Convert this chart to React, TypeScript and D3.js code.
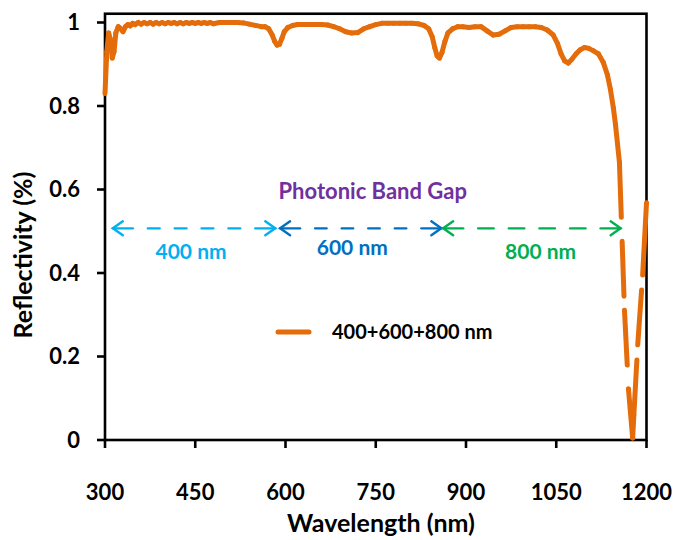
import React, { useEffect, useRef } from 'react'
import * as d3 from 'd3'

// reflectivity spectrum
const wavelength = [
  300, 303, 306, 309, 312, 315, 318, 322, 326, 330, 334, 338, 342, 346, 350, 355, 360, 365, 370, 375,
  380, 385, 390, 395, 400, 405, 410, 415, 420, 425, 430, 435, 440, 445, 450, 455, 460, 465, 470, 475,
  480, 490, 500, 510, 520, 530, 540, 550, 560, 566, 572, 578, 582, 586, 590, 594, 598, 604, 612, 620,
  630, 640, 650, 660, 670, 680, 690, 700, 710, 720, 730, 740, 750, 760, 770, 780, 790, 800, 810, 820,
  830, 838, 844, 848, 852, 856, 860, 865, 870, 878, 886, 895, 905, 915, 925, 935, 945, 955, 965, 975,
  985, 995, 1005, 1015, 1025, 1035, 1045, 1052, 1058, 1064, 1070, 1076, 1083, 1090, 1097, 1104, 1112, 1120, 1128, 1135,
  1140, 1145, 1148.5, 1155, 1163.4, 1170, 1177, 1179, 1185.4, 1193.6, 1196.7, 1200,
]
const reflectivity = [
  0.83, 0.93, 0.975, 0.96, 0.915, 0.93, 0.975, 0.99, 0.985, 0.978, 0.99, 0.995, 0.992, 0.998, 0.995, 1.0, 0.996, 1.0, 0.997, 1.0,
  0.996, 1.0, 0.997, 1.0, 0.997, 1.0, 0.998, 1.0, 0.997, 1.0, 0.997, 1.0, 0.998, 1.0, 0.998, 1.0, 0.998, 1.0, 0.998, 1.0,
  0.997, 1.0, 1.0, 1.0, 1.0, 0.999, 0.996, 0.993, 0.99, 0.99, 0.985, 0.97, 0.955, 0.946, 0.948, 0.962, 0.978, 0.988, 0.993, 0.995,
  0.995, 0.995, 0.995, 0.995, 0.994, 0.99, 0.985, 0.978, 0.975, 0.976, 0.985, 0.99, 0.995, 0.998, 0.998, 0.998, 0.998, 0.998, 0.998, 0.997,
  0.993, 0.985, 0.965, 0.94, 0.92, 0.915, 0.928, 0.955, 0.975, 0.985, 0.99, 0.99, 0.988, 0.99, 0.99, 0.98, 0.97, 0.972, 0.98, 0.988,
  0.99, 0.99, 0.99, 0.99, 0.988, 0.982, 0.97, 0.95, 0.925, 0.908, 0.903, 0.912, 0.925, 0.935, 0.94, 0.938, 0.932, 0.925, 0.905, 0.875,
  0.84, 0.795, 0.755, 0.665, 0.311, 0.122, 0.005, 0.06, 0.228, 0.395, 0.479, 0.568,
]

const xTicks = [300, 450, 600, 750, 900, 1050, 1200]
const yTicks = [0, 0.2, 0.4, 0.6, 0.8, 1]

// photonic band gap annotations
const bandStart = [313, 591, 862]
const bandEnd = [583, 859, 1157]
const bandLabel = ['400 nm', '600 nm', '800 nm']
const bandLabelAt = [443, 711, 1024]
const bandColor = ['#00B0F0', '#0070C0', '#00B050']

const seriesName = '400+600+800 nm'

const App = () => {
  const svgRef = useRef<SVGSVGElement>(null)

  useEffect(() => {
    const svg = d3.select(svgRef.current)
    svg.selectAll('*').remove()

    const font = 'Lato, Carlito, Calibri, sans-serif'
    const x = d3.scaleLinear([300, 1200], [105, 646.5])
    const y = d3.scaleLinear([0, 1], [440, 22.5])

    const orange = '#E46C0A'

    // plot frame
    svg.append('rect')
      .attr('x', x(300)).attr('y', y(1.021))
      .attr('width', x(1200) - x(300)).attr('height', y(0) - y(1.021))
      .attr('fill', 'none').attr('stroke', '#000').attr('stroke-width', 2.6)

    // ticks
    svg.append('g').selectAll('line').data(yTicks).join('line')
      .attr('x1', x(300) - 8).attr('x2', x(300))
      .attr('y1', d => y(d)).attr('y2', d => y(d))
      .attr('stroke', '#000').attr('stroke-width', 2.6)
    svg.append('g').selectAll('line').data(xTicks).join('line')
      .attr('x1', d => x(d)).attr('x2', d => x(d))
      .attr('y1', y(0)).attr('y2', y(0) + 8)
      .attr('stroke', '#000').attr('stroke-width', 2.6)

    svg.append('g').selectAll('text').data(yTicks).join('text')
      .attr('x', 80).attr('y', d => y(d))
      .attr('dy', '0.35em').attr('text-anchor', 'end')
      .attr('font-family', font).attr('font-weight', 700).attr('font-size', 22)
      .text(d => String(d))
    svg.append('g').selectAll('text').data(xTicks).join('text')
      .attr('x', d => x(d)).attr('y', 492)
      .attr('dy', '0.35em').attr('text-anchor', 'middle')
      .attr('font-family', font).attr('font-weight', 700).attr('font-size', 22)
      .text(d => String(d))

    svg.append('text')
      .attr('x', 381).attr('y', 523)
      .attr('dy', '0.35em').attr('text-anchor', 'middle')
      .attr('font-family', font).attr('font-weight', 700).attr('font-size', 25)
      .text('Wavelength (nm)')
    svg.append('text')
      .attr('transform', `translate(23,255) rotate(-90)`)
      .attr('dy', '0.35em').attr('text-anchor', 'middle')
      .attr('font-family', font).attr('font-weight', 700).attr('font-size', 25)
      .text('Reflectivity (%)')

    // band gap arrows
    svg.append('text')
      .attr('x', x(745)).attr('y', 191)
      .attr('dy', '0.35em').attr('text-anchor', 'middle')
      .attr('font-family', font).attr('font-weight', 700).attr('font-size', 22)
      .attr('fill', '#7030A0')
      .text('Photonic Band Gap')

    const ay = y(0.507)
    bandStart.forEach((s, i) => {
      const g = svg.append('g').attr('stroke', bandColor[i]).attr('stroke-width', 2.4)
        .attr('fill', 'none').attr('stroke-linecap', 'round')
      const x1 = x(s), x2 = x(bandEnd[i])
      const stem = 20, gap = 15
      g.append('line').attr('x1', x1).attr('x2', x1 + stem).attr('y1', ay).attr('y2', ay)
      g.append('line').attr('x1', x2 - stem).attr('x2', x2).attr('y1', ay).attr('y2', ay)
      // fit whole dashes between the two stems
      const a = x1 + stem + gap, b = x2 - stem - gap
      const n = Math.max(1, Math.round((b - a + gap) / (15 + gap)))
      const dash = (b - a - (n - 1) * gap) / n
      g.append('line').attr('x1', a).attr('x2', b).attr('y1', ay).attr('y2', ay)
        .attr('stroke-dasharray', `${dash} ${gap}`)
      g.append('path').attr('d', `M${x1 + 10},${ay - 7}L${x1},${ay}L${x1 + 10},${ay + 7}`)
      g.append('path').attr('d', `M${x2 - 10},${ay - 7}L${x2},${ay}L${x2 - 10},${ay + 7}`)
      svg.append('text')
        .attr('x', x(bandLabelAt[i])).attr('y', i === 1 ? 248 : 252)
        .attr('dy', '0.35em').attr('text-anchor', 'middle')
        .attr('font-family', font).attr('font-weight', 700).attr('font-size', 21)
        .attr('fill', bandColor[i])
        .text(bandLabel[i])
    })

    // legend
    svg.append('line').attr('x1', 278).attr('x2', 309).attr('y1', 332).attr('y2', 332)
      .attr('stroke', orange).attr('stroke-width', 5).attr('stroke-linecap', 'round')
    svg.append('text').attr('x', 332).attr('y', 332).attr('dy', '0.35em')
      .attr('font-family', font).attr('font-weight', 700).attr('font-size', 20)
      .text(seriesName)

    // series: each segment restarts the dash pattern, as the original renderer did
    const pts = wavelength.map((w, i) => [x(w), y(reflectivity[i])] as [number, number])
    svg.append('g').selectAll('line').data(d3.pairs(pts)).join('line')
      .attr('x1', d => d[0][0]).attr('y1', d => d[0][1])
      .attr('x2', d => d[1][0]).attr('y2', d => d[1][1])
      .attr('stroke', orange).attr('stroke-width', 5)
      .attr('stroke-linecap', 'round').attr('stroke-dasharray', '55 24')
  })

  return (
    <svg ref={svgRef} width={678} height={540}
      style={{ position: 'absolute', left: 0, top: 0, background: '#fff' }} />
  )
}

export default App
